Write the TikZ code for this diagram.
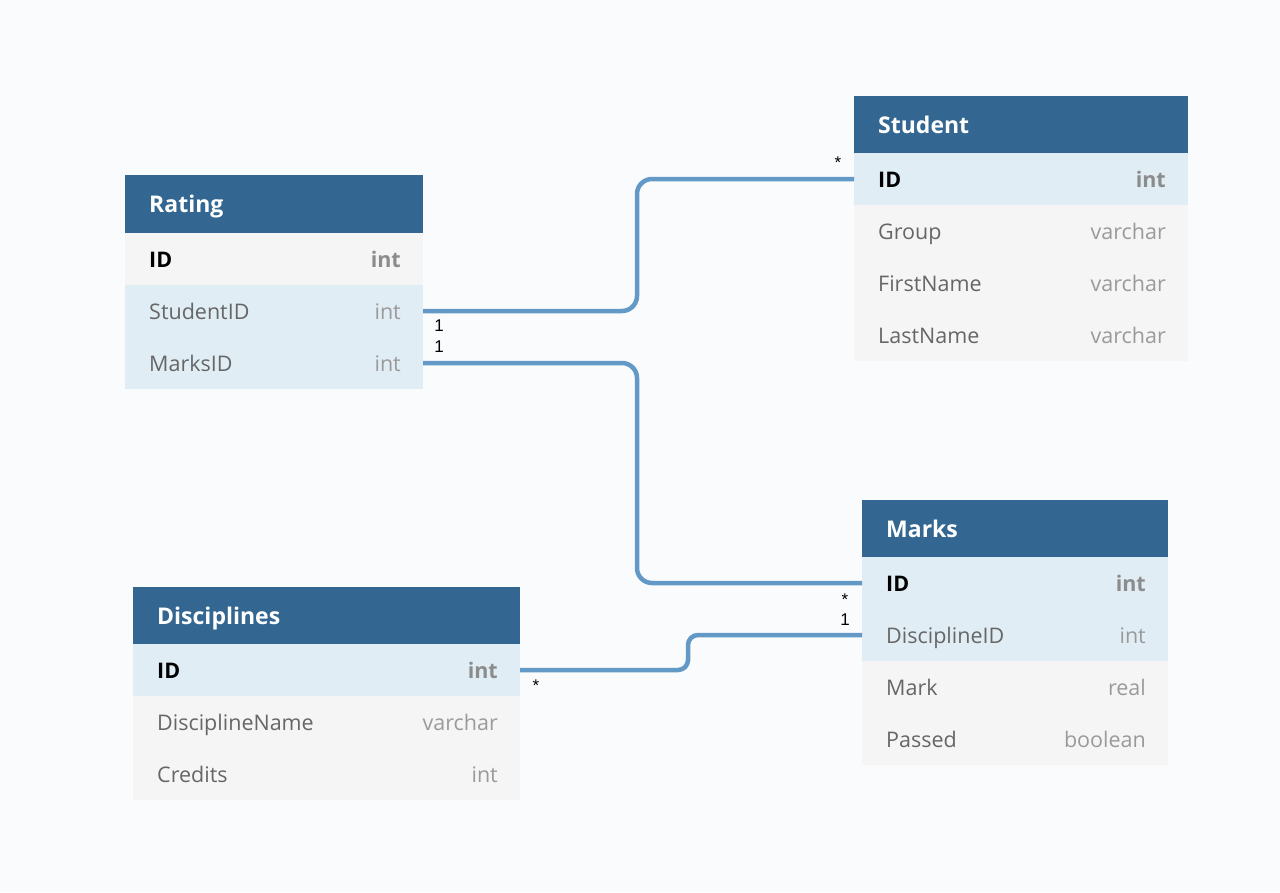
\documentclass[tikz,border=0pt]{standalone}
\usepackage{fontspec}
\setmainfont{Open Sans}
\newfontfamily\labelfont{Liberation Sans}
\begin{document}
\definecolor{pagebg}{HTML}{FAFBFC}
\definecolor{headblue}{HTML}{336791}
\definecolor{keyrow}{HTML}{E0EDF5}
\definecolor{plainrow}{HTML}{F5F5F5}
\definecolor{linkblue}{HTML}{6399C6}
\definecolor{fieldgrey}{HTML}{666666}
\definecolor{typegrey}{HTML}{9A9A9A}
\definecolor{boldtype}{HTML}{8C8C8C}
\begin{tikzpicture}[x=1pt,y=-1pt,
  headbox/.style={fill=headblue,inner sep=0pt,outer sep=0pt,minimum height=58pt,anchor=north west},
  headtxt/.style={text=white,font=\fontsize{23}{27}\selectfont\bfseries,inner sep=0pt,anchor=base west,xshift=24pt,yshift=-8.5pt},
  rowbox/.style={inner sep=0pt,outer sep=0pt,minimum height=52pt,anchor=north west},
  keyfill/.style={fill=keyrow},
  plainfill/.style={fill=plainrow},
  fieldtxt/.style={text=fieldgrey,font=\fontsize{21.5}{25}\selectfont},
  typetxt/.style={text=typegrey,font=\fontsize{21.5}{25}\selectfont},
  pkfield/.style={text=black,font=\fontsize{21.5}{25}\selectfont\bfseries},
  pktype/.style={text=boldtype,font=\fontsize{21.5}{25}\selectfont\bfseries},
  link/.style={draw=linkblue,line width=4.5pt},
  card/.style={font=\labelfont\fontsize{17}{20}\selectfont,inner sep=0pt,text=black}
]
% canvas
\fill[pagebg] (0,0) rectangle (1280,892);
\useasboundingbox (0,0) rectangle (1280,892);

% one table row: name, x, top y, width, fill style, field, type, field style, type style
\newcommand{\erdrow}[9]{%
  \node[rowbox,#5,minimum width=#4pt] (#1) at (#2,#3) {};
  \node[#8,inner sep=0pt,anchor=base west,xshift=24pt,yshift=-8pt] (#1-f) at (#1.west) {#6};
  \node[#9,inner sep=0pt,anchor=base east,xshift=-22pt,yshift=-8pt] (#1-t) at (#1.east) {#7};
}

% Rating
\node[headbox,minimum width=298pt] (rating) at (125,175) {};
\node[headtxt] (rating-title) at (rating.west) {Rating};
\erdrow{r-id}{125}{233}{298}{plainfill}{ID}{int}{pkfield}{pktype}
\erdrow{r-sid}{125}{285}{298}{keyfill}{StudentID}{int}{fieldtxt}{typetxt}
\erdrow{r-mid}{125}{337}{298}{keyfill}{MarksID}{int}{fieldtxt}{typetxt}

% Student
\node[headbox,minimum width=334pt] (student) at (854,96) {};
\node[headtxt] (student-title) at (student.west) {Student};
\erdrow{s-id}{854}{153}{334}{keyfill}{ID}{int}{pkfield}{pktype}
\erdrow{s-grp}{854}{205}{334}{plainfill}{Group}{varchar}{fieldtxt}{typetxt}
\erdrow{s-fn}{854}{257}{334}{plainfill}{FirstName}{varchar}{fieldtxt}{typetxt}
\erdrow{s-ln}{854}{309}{334}{plainfill}{LastName}{varchar}{fieldtxt}{typetxt}

% Marks
\node[headbox,minimum width=306pt] (marks) at (862,500) {};
\node[headtxt] (marks-title) at (marks.west) {Marks};
\erdrow{m-id}{862}{557}{306}{keyfill}{ID}{int}{pkfield}{pktype}
\erdrow{m-did}{862}{609}{306}{keyfill}{DisciplineID}{int}{fieldtxt}{typetxt}
\erdrow{m-mark}{862}{661}{306}{plainfill}{Mark}{real}{fieldtxt}{typetxt}
\erdrow{m-pass}{862}{713}{306}{plainfill}{Passed}{boolean}{fieldtxt}{typetxt}

% Disciplines
\node[headbox,minimum width=387pt] (disc) at (133,587) {};
\node[headtxt] (disc-title) at (disc.west) {Disciplines};
\erdrow{d-id}{133}{644}{387}{keyfill}{ID}{int}{pkfield}{pktype}
\erdrow{d-name}{133}{696}{387}{plainfill}{DisciplineName}{varchar}{fieldtxt}{typetxt}
\erdrow{d-cred}{133}{748}{387}{plainfill}{Credits}{int}{fieldtxt}{typetxt}

% relationships
\draw[link,rounded corners=15pt] (r-sid.east) -- ++(214,0) |- (s-id.west);
\draw[link,rounded corners=15pt] (r-mid.east) -- ++(214,0) |- (m-id.west);
\draw[link,rounded corners=10pt] (d-id.east) -- ++(168,0) |- (m-did.west);

% cardinalities
\node[card] (c-s) at (838,163) {*};
\node[card] (c-r1) at (439,326) {1};
\node[card] (c-r2) at (439,347) {1};
\node[card] (c-m1) at (845,600) {*};
\node[card] (c-m2) at (845,620) {1};
\node[card] (c-d) at (536,686) {*};
\end{tikzpicture}
\end{document}
